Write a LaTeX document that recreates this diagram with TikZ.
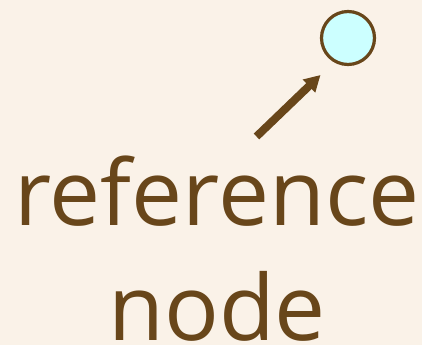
\documentclass[tikz,border=0pt]{standalone}
\usepackage{fontspec}
\setmainfont{Open Sans}
\usetikzlibrary{arrows.meta}

\definecolor{paper}{RGB}{250,242,232}
\definecolor{bark}{RGB}{104,70,26}
\definecolor{ice}{RGB}{204,255,255}

\begin{document}
\begin{tikzpicture}[x=1pt, y=-1pt, >={Triangle[length=16pt,width=17pt]},
        dot/.style = {circle, draw=bark, fill=ice, line width=3.2pt, minimum size=53pt, inner sep=0pt},
        caption/.style = {text=bark, font=\fontsize{91}{115}\selectfont, align=center, inner sep=0pt, text depth=0pt},
    ]
    % background sheet
    \fill[paper] (0,0) rectangle (422,345);
    \useasboundingbox (0,0) rectangle (422,345);

    \node[dot] (target) at (348,38) {};
    % base anchor sits on the last line
    \node[caption, anchor=base] (name) at (217,340) {reference\\node};

    \coordinate (tail) at (256.5,136.5);
    \coordinate (tip) at (320.5,75);
    \draw[->, bark, line width=8pt] (tail) -- (tip);
\end{tikzpicture}
\end{document}
